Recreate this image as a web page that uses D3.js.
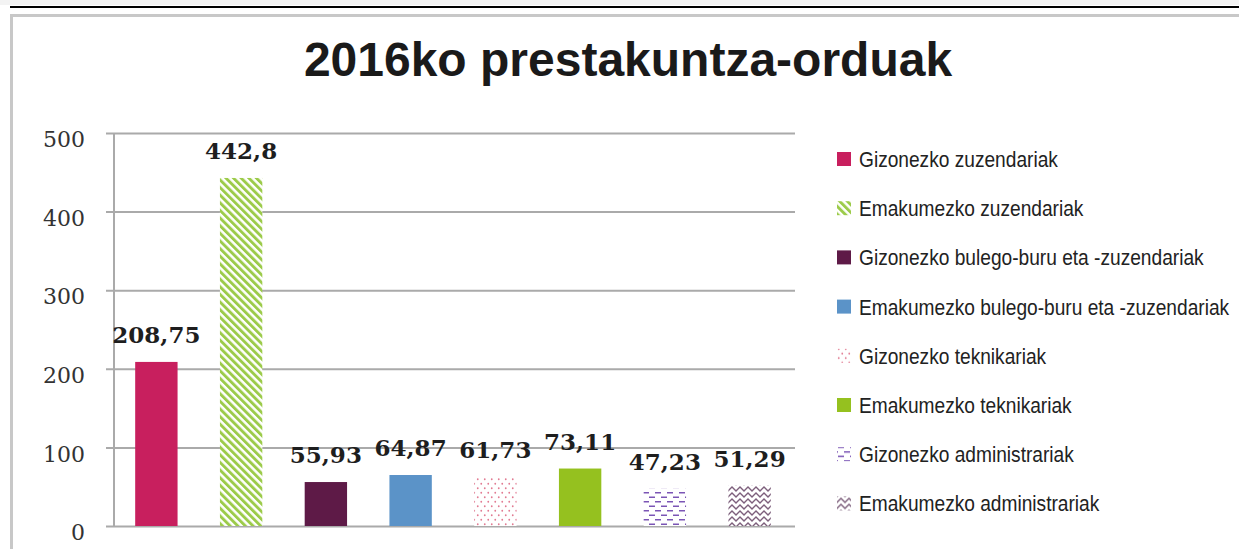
<!DOCTYPE html>
<html>
<head>
<meta charset="utf-8">
<script src="https://cdn.jsdelivr.net/npm/d3@7"></script>
<style>
  body { margin: 0; background: #fff; }
  svg { display: block; }
</style>
</head>
<body>
<div id="chart"></div>
<script>
// Data
const categories = [
    'Gizonezko zuzendariak',
    'Emakumezko zuzendariak',
    'Gizonezko bulego-buru eta -zuzendariak',
    'Emakumezko bulego-buru eta -zuzendariak',
    'Gizonezko teknikariak',
    'Emakumezko teknikariak',
    'Gizonezko administrariak',
    'Emakumezko administrariak'
];
const values = [208.75, 442.8, 55.93, 64.87, 61.73, 73.11, 47.23, 51.29];
const yTicks = [0, 100, 200, 300, 400, 500];
const fills = ['#c81f5e', 'url(#p-stripes)', '#5e1a47', '#5b93c8', 'url(#p-dots)', '#95c11f', 'url(#p-dashes)', 'url(#p-zigzag)'];

const W = 1239, H = 549;
const svg = d3.select('#chart').append('svg')
    .attr('width', W)
    .attr('height', H);

// Patterns
const defs = svg.append('defs');

const stripes = defs.append('pattern')
    .attr('id', 'p-stripes')
    .attr('patternUnits', 'userSpaceOnUse')
    .attr('width', 5.4).attr('height', 10)
    .attr('patternTransform', 'rotate(-45)');
stripes.append('rect').attr('width', 5.4).attr('height', 10).attr('fill', '#fff');
stripes.append('rect').attr('width', 2.9).attr('height', 10).attr('fill', '#9ccb4a');

const dots = defs.append('pattern')
    .attr('id', 'p-dots')
    .attr('patternUnits', 'userSpaceOnUse')
    .attr('width', 7).attr('height', 9);
dots.append('rect').attr('width', 7).attr('height', 9).attr('fill', '#fff');
dots.append('circle').attr('cx', 1.75).attr('cy', 2.25).attr('r', 0.9).attr('fill', '#e27a92');
dots.append('circle').attr('cx', 5.25).attr('cy', 6.75).attr('r', 0.9).attr('fill', '#e27a92');

const dashes = defs.append('pattern')
    .attr('id', 'p-dashes')
    .attr('patternUnits', 'userSpaceOnUse')
    .attr('width', 12).attr('height', 9);
dashes.append('rect').attr('width', 12).attr('height', 9).attr('fill', '#fff');
dashes.append('rect').attr('x', 1).attr('y', 1.5).attr('width', 6).attr('height', 1.5).attr('fill', '#7b55b5');
dashes.append('rect').attr('x', 7).attr('y', 6).attr('width', 6).attr('height', 1.5).attr('fill', '#7b55b5');
dashes.append('rect').attr('x', -5).attr('y', 6).attr('width', 6).attr('height', 1.5).attr('fill', '#7b55b5');

const zig = defs.append('pattern')
    .attr('id', 'p-zigzag')
    .attr('patternUnits', 'userSpaceOnUse')
    .attr('width', 8).attr('height', 6);
zig.append('rect').attr('width', 8).attr('height', 6).attr('fill', '#fff');
zig.append('path')
    .attr('d', 'M-2,3 L0,5 L4,1 L8,5 L10,3')
    .attr('fill', 'none')
    .attr('stroke', '#7d5f7c')
    .attr('stroke-width', 1.3);

// Page frame
svg.append('rect')
    .attr('x', 0).attr('y', 0).attr('width', W).attr('height', 5)
    .attr('fill', '#f3f3f3');
svg.append('line')
    .attr('x1', 10).attr('x2', W).attr('y1', 7).attr('y2', 7)
    .attr('stroke', '#000').attr('stroke-width', 2);
svg.append('rect')
    .attr('x', 11.5).attr('y', 15.5).attr('width', W + 20).attr('height', H)
    .attr('fill', '#fff')
    .attr('stroke', '#c8c8c8').attr('stroke-width', 3);

// Title
svg.append('text')
    .attr('x', 628).attr('y', 76)
    .attr('text-anchor', 'middle')
    .style('font-family', '"Liberation Sans", Arial, sans-serif')
    .style('font-weight', 'bold')
    .style('font-size', '48px')
    .attr('fill', '#1a1a1a')
    .text('2016ko prestakuntza-orduak');

// Scales
const plotLeft = 114, plotRight = 792;
const x = d3.scaleBand()
    .domain(categories)
    .range([plotLeft, plotRight])
    .paddingInner(0.5)
    .paddingOuter(0.25);
const y = d3.scaleLinear()
    .domain([0, 500])
    .range([526, 133]);

// Grid + y axis
const yAxis = svg.append('g')
    .attr('transform', `translate(${plotLeft},0)`)
    .call(d3.axisLeft(y)
        .tickValues(yTicks)
        .tickSize(-(plotRight + 3 - plotLeft))
        .tickSizeOuter(0)
        .tickPadding(29)
        .tickFormat(d3.format('d')));
yAxis.select('.domain')
    .attr('stroke', '#aaa').attr('stroke-width', 2)
    .attr('d', `M0,${y(500)}V${y(0)}`);
yAxis.selectAll('.tick line')
    .attr('x1', -8)
    .attr('stroke', '#aaa').attr('stroke-width', 2);
yAxis.selectAll('.tick text')
    .attr('dy', '0.62em')
    .attr('fill', '#333')
    .style('font-family', '"DejaVu Serif", serif')
    .style('font-size', '22px');

// Bars
svg.selectAll('.bar')
    .data(values)
    .enter()
    .append('rect')
    .attr('class', 'bar')
    .attr('x', (d, i) => x(categories[i]))
    .attr('width', x.bandwidth())
    .attr('y', d => y(d))
    .attr('height', d => y(0) - y(d))
    .attr('fill', (d, i) => fills[i]);

// Value labels
svg.selectAll('.val')
    .data(values)
    .enter()
    .append('text')
    .attr('class', 'val')
    .attr('x', (d, i) => x(categories[i]) + x.bandwidth() / 2)
    .attr('y', d => y(d) - 19)
    .attr('text-anchor', 'middle')
    .style('font-family', '"DejaVu Serif", serif')
    .style('font-weight', 'bold')
    .style('font-size', '23px')
    .attr('fill', '#1e1e1e')
    .text(d => String(d).replace('.', ','));

// Legend
const legend = svg.append('g').attr('transform', 'translate(837,0)');
const rows = legend.selectAll('.item')
    .data(categories)
    .enter()
    .append('g')
    .attr('class', 'item')
    .attr('transform', (d, i) => `translate(0,${159 + i * 49.2})`);
rows.append('rect')
    .attr('x', 0).attr('y', -7)
    .attr('width', 14).attr('height', 14)
    .attr('fill', (d, i) => fills[i]);
const legendText = rows.append('text')
    .attr('dy', '0.36em')
    .style('font-family', '"Liberation Sans", Arial, sans-serif')
    .style('font-size', '22px')
    .attr('fill', '#222')
    .text(d => d);

// no narrow font installed: squeeze the text horizontally
const firstWidth = legendText.node().getComputedTextLength();
const squeeze = 199 / firstWidth;
legendText.attr('transform', `translate(22,0) scale(${squeeze},1)`);
</script>
</body>
</html>
